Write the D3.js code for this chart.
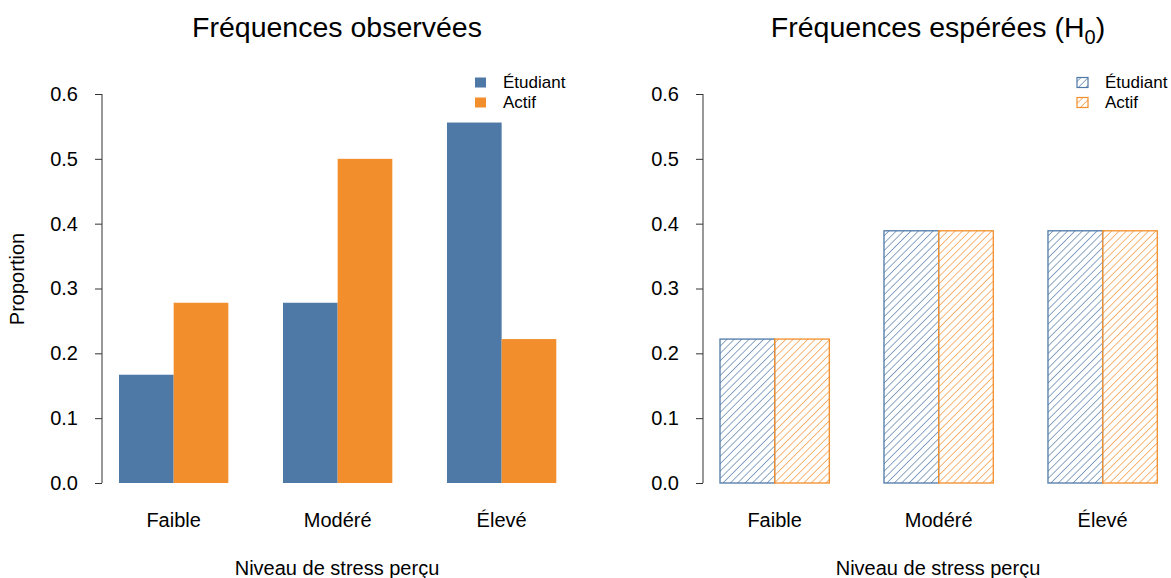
<!DOCTYPE html>
<html>
<head>
<meta charset="utf-8">
<script src="https://cdn.jsdelivr.net/npm/d3@7"></script>
<style>
  body { margin: 0; background: #fff; }
  text { font-family: "Liberation Sans", Arial, sans-serif; fill: #000; }
</style>
</head>
<body>
<svg id="chart" width="1171" height="578"></svg>
<script>
// data
const categories = ['Faible', 'Modéré', 'Élevé'];
const seriesNames = ['Étudiant', 'Actif'];
const observedEtudiant = [0.167, 0.278, 0.556];
const observedActif = [0.278, 0.500, 0.222];
const expectedEtudiant = [0.222, 0.389, 0.389];
const expectedActif = [0.222, 0.389, 0.389];
const yTicks = [0, 0.1, 0.2, 0.3, 0.4, 0.5, 0.6];

const colors = ['#4E79A7', '#F28E2B'];

const svg = d3.select('#chart');

// hatch patterns for expected panel
const defs = svg.append('defs');
colors.forEach((c, i) => {
  const p = defs.append('pattern')
    .attr('id', 'hatch' + i)
    .attr('patternUnits', 'userSpaceOnUse')
    .attr('width', 5.2)
    .attr('height', 5.2)
    .attr('patternTransform', 'rotate(45)');
  p.append('line')
    .attr('x1', 0).attr('y1', 0)
    .attr('x2', 0).attr('y2', 5.2)
    .attr('stroke', c)
    .attr('stroke-width', 1.3);
});

function drawPanel(opts) {
  const g = svg.append('g').attr('transform', `translate(${opts.dx},0)`);

  const x = d3.scaleBand()
    .domain(categories)
    .range([119, 556.3])
    .paddingInner(1 / 3)
    .paddingOuter(0);

  const xInner = d3.scaleBand()
    .domain(seriesNames)
    .range([0, x.bandwidth()]);

  const y = d3.scaleLinear()
    .domain([0, 0.6])
    .range([483, 94]);

  // y axis
  const yAxis = d3.axisLeft(y)
    .tickValues(yTicks)
    .tickFormat(d3.format('.1f'))
    .tickSize(7)
    .tickPadding(17);

  const ya = g.append('g')
    .attr('transform', 'translate(102,0)')
    .call(yAxis);
  ya.select('.domain').attr('d', `M0,${y(0)}V${y(0.6)}`).attr('stroke', '#333');
  ya.selectAll('.tick line').attr('stroke', '#333');
  ya.selectAll('.tick text')
    .attr('font-size', 20)
    .attr('font-family', '"Liberation Sans", Arial, sans-serif')
    .attr('fill', '#000');

  // bars
  const rows = categories.map((c, i) => ({
    cat: c,
    vals: seriesNames.map((s, j) => ({ s, j, v: opts.series[j][i] }))
  }));

  const groups = g.selectAll('.grp')
    .data(rows)
    .enter().append('g')
    .attr('class', 'grp')
    .attr('transform', d => `translate(${x(d.cat)},0)`);

  groups.selectAll('rect')
    .data(d => d.vals)
    .enter().append('rect')
    .attr('x', d => xInner(d.s))
    .attr('y', d => y(d.v))
    .attr('width', xInner.bandwidth())
    .attr('height', d => y(0) - y(d.v))
    .attr('fill', d => opts.hatched ? `url(#hatch${d.j})` : colors[d.j])
    .attr('stroke', d => opts.hatched ? colors[d.j] : 'none')
    .attr('stroke-width', 1.3);

  // category labels
  g.selectAll('.cat')
    .data(categories)
    .enter().append('text')
    .attr('class', 'cat')
    .attr('x', d => x(d) + x.bandwidth() / 2)
    .attr('y', 527)
    .attr('text-anchor', 'middle')
    .attr('font-size', 20)
    .text(d => d);

  // x label
  g.append('text')
    .attr('x', 337)
    .attr('y', 575)
    .attr('text-anchor', 'middle')
    .attr('font-size', 20)
    .text('Niveau de stress perçu');

  // title
  const t = g.append('text')
    .attr('x', 337)
    .attr('y', 37)
    .attr('text-anchor', 'middle')
    .attr('font-size', 28.5)
    .text(opts.title);
  if (opts.sub) {
    t.append('tspan').text('(H');
    t.append('tspan').attr('font-size', 20).attr('dy', 7).text('0');
    t.append('tspan').attr('dy', -7).text(')');
  }

  // legend
  const lg = g.append('g').attr('transform', `translate(${opts.legendX},0)`);
  seriesNames.forEach((s, j) => {
    const ly = 82.5 + j * 20;
    lg.append('rect')
      .attr('x', 0).attr('y', ly - 5)
      .attr('width', 11).attr('height', 10)
      .attr('fill', opts.hatched ? `url(#hatch${j})` : colors[j])
      .attr('stroke', opts.hatched ? colors[j] : 'none')
      .attr('stroke-width', 1.2);
    lg.append('text')
      .attr('x', 28).attr('y', ly + 5.5)
      .attr('font-size', 17)
      .text(s);
  });

  if (opts.ylabel) {
    g.append('text')
      .attr('transform', 'translate(24,279) rotate(-90)')
      .attr('text-anchor', 'middle')
      .attr('font-size', 20)
      .text(opts.ylabel);
  }
}

drawPanel({
  dx: 0,
  title: 'Fréquences observées',
  series: [observedEtudiant, observedActif],
  hatched: false,
  legendX: 475,
  ylabel: 'Proportion'
});

drawPanel({
  dx: 601,
  title: 'Fréquences espérées ',
  sub: true,
  series: [expectedEtudiant, expectedActif],
  hatched: true,
  legendX: 476
});
</script>
</body>
</html>
